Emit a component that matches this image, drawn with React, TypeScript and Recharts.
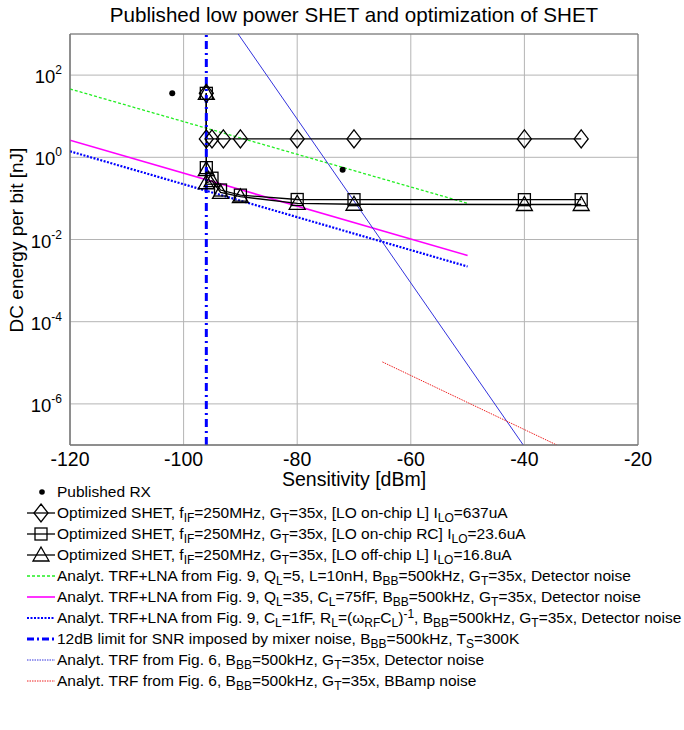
import React from 'react';
import { ComposedChart, Line, XAxis, YAxis, CartesianGrid, ReferenceArea } from 'recharts';

const FONT = '"Liberation Sans", Arial, sans-serif';

// sensitivity [dBm] / energy per bit [nJ]
const publishedX = [-102, -72];
const publishedY = [36, 0.5];

const diamondX = [-96, -96, -95, -93, -90, -80, -70, -40, -30];
const diamondY = [36, 2.8, 2.8, 2.8, 2.8, 2.8, 2.8, 2.8, 2.8];

const squareX = [-96, -96, -95, -93.5, -90, -80, -70, -40, -30];
const squareY = [36, 0.56, 0.31, 0.16, 0.12, 0.094, 0.093, 0.093, 0.093];

const triangleX = [-96, -96, -96, -95, -93.5, -90, -80, -70, -40, -30];
const triangleY = [36, 0.5, 0.24, 0.27, 0.14, 0.11, 0.076, 0.072, 0.071, 0.071];

const lnaQ5X = [-120, -50];
const lnaQ5Y = [46, 0.076];

const lnaQ35X = [-120, -50];
const lnaQ35Y = [2.6, 0.0041];

const lnaC1X = [-120, -50];
const lnaC1Y = [1.4, 0.0022];

const mixerLimitX = [-96, -96];
const mixerLimitY = [1e-7, 1e3];

const trfDetX = [-90.4, -40.2];
const trfDetY = [1e3, 1e-7];

const trfBBX = [-65, -34.3];
const trfBBY = [1.05e-5, 1e-7];

const xTicks = [-120, -100, -80, -60, -40, -20];
const yTicks = [1e-6, 1e-4, 1e-2, 1, 1e2];

const pts = (xs: number[], ys: number[]) => xs.map((x, i) => ({ x, y: ys[i] }));

const Diamond = ({ cx, cy }: any) => (
  <path d={`M${cx},${cy - 9}L${cx + 7},${cy}L${cx},${cy + 9}L${cx - 7},${cy}Z`} fill="none" stroke="#000" strokeWidth={1.3} />
);
const Square = ({ cx, cy }: any) => (
  <rect x={cx - 6} y={cy - 6} width={12} height={12} fill="none" stroke="#000" strokeWidth={1.3} />
);
const Triangle = ({ cx, cy }: any) => (
  <path d={`M${cx},${cy - 8}L${cx + 8},${cy + 6}L${cx - 8},${cy + 6}Z`} fill="none" stroke="#000" strokeWidth={1.3} />
);

const YTick = ({ x, y, payload }: any) => {
  const e = Math.round(Math.log10(payload.value));
  return (
    <text x={x} y={y + 8} textAnchor="end" fontSize={18.5} fontFamily={FONT} fill="#000">
      10<tspan dy={-9} fontSize={12}>{e}</tspan>
    </text>
  );
};

// label text: _{..} subscript, ^{..} superscript
const rich = (s: string) => {
  const out: React.ReactNode[] = [];
  const re = /([_^])\{([^}]*)\}/g;
  let last = 0;
  let m: RegExpExecArray | null;
  let k = 0;
  while ((m = re.exec(s))) {
    out.push(s.slice(last, m.index));
    const style: React.CSSProperties =
      m[1] === '_'
        ? { fontSize: 12, verticalAlign: '-4px', lineHeight: 0 }
        : { fontSize: 12, verticalAlign: '5px', lineHeight: 0 };
    out.push(<span key={k++} style={style}>{m[2]}</span>);
    last = m.index + m[0].length;
  }
  out.push(s.slice(last));
  return out;
};

const legendItems = [
  { icon: 'dot', text: 'Published RX' },
  { icon: 'diamond', text: 'Optimized SHET, f_{IF}=250MHz, G_{T}=35x, [LO on-chip L] I_{LO}=637uA' },
  { icon: 'square', text: 'Optimized SHET, f_{IF}=250MHz, G_{T}=35x, [LO on-chip RC] I_{LO}=23.6uA' },
  { icon: 'triangle', text: 'Optimized SHET, f_{IF}=250MHz, G_{T}=35x, [LO off-chip L] I_{LO}=16.8uA' },
  { icon: 'green', text: 'Analyt. TRF+LNA from Fig. 9, Q_{L}=5, L=10nH, B_{BB}=500kHz, G_{T}=35x, Detector noise' },
  { icon: 'magenta', text: 'Analyt. TRF+LNA from Fig. 9, Q_{L}=35, C_{L}=75fF, B_{BB}=500kHz, G_{T}=35x, Detector noise' },
  { icon: 'bluedot', text: 'Analyt. TRF+LNA from Fig. 9, C_{L}=1fF, R_{L}=(\u03c9_{RF}C_{L})^{-1}, B_{BB}=500kHz, G_{T}=35x, Detector noise' },
  { icon: 'dashdot', text: '12dB limit for SNR imposed by mixer noise, B_{BB}=500kHz, T_{S}=300K' },
  { icon: 'thinblue', text: 'Analyt. TRF from Fig. 6, B_{BB}=500kHz, G_{T}=35x, Detector noise' },
  { icon: 'red', text: 'Analyt. TRF from Fig. 6, B_{BB}=500kHz, G_{T}=35x, BBamp noise' },
];

const LegendIcon = ({ kind }: { kind: string }) => {
  const line = (stroke: string, w: number, dash?: string) => (
    <line x1={0} y1={11} x2={28} y2={11} stroke={stroke} strokeWidth={w} strokeDasharray={dash} />
  );
  let body: React.ReactNode = null;
  if (kind === 'dot') body = <circle cx={15} cy={11} r={2.8} fill="#000" />;
  if (kind === 'diamond') body = <>{line('#000', 1.3)}<Diamond cx={14} cy={11} /></>;
  if (kind === 'square') body = <>{line('#000', 1.3)}<Square cx={14} cy={11} /></>;
  if (kind === 'triangle') body = <>{line('#000', 1.3)}<Triangle cx={14} cy={11} /></>;
  if (kind === 'green') body = line('#22ee22', 1.3, '3 2');
  if (kind === 'magenta') body = line('#ff00ff', 1.6);
  if (kind === 'bluedot') body = line('#0000ff', 2.2, '2 1.5');
  if (kind === 'dashdot') body = line('#0000ff', 3, '7 3 2 3');
  if (kind === 'thinblue') body = line('#3333dd', 1, '1.5 1');
  if (kind === 'red') body = line('#ee2222', 1, '1.5 1');
  return (
    <svg width={30} height={22} style={{ flex: 'none', overflow: 'visible' }}>
      {body}
    </svg>
  );
};

const axisText = { fontSize: 19.5, fill: '#000', fontFamily: FONT };

export default function App() {
  return (
    <div style={{ width: 684, height: 730, background: '#fff', fontFamily: FONT, position: 'relative', overflow: 'hidden' }}>
      <style>{'body{margin:0}'}</style>
      <div style={{ position: 'absolute', left: 354, top: 3, transform: 'translateX(-50%)', whiteSpace: 'nowrap', fontSize: 20.6, lineHeight: '24px' }}>
        Published low power SHET and optimization of SHET
      </div>
      <ComposedChart width={684} height={481} margin={{ top: 34, right: 46, left: 0, bottom: 0 }}>
        <CartesianGrid stroke="#b4b4b4" strokeWidth={1} />
        <XAxis
          type="number"
          dataKey="x"
          domain={[-120, -20]}
          ticks={xTicks}
          allowDataOverflow
          height={36}
          tickLine={false}
          axisLine={{ stroke: '#777' }}
          tick={axisText}
          tickMargin={1}
        />
        <YAxis
          type="number"
          scale="log"
          domain={[1e-7, 1e3]}
          ticks={yTicks}
          allowDataOverflow
          width={70}
          tickLine={false}
          axisLine={{ stroke: '#777' }}
          tick={<YTick />}
        />
        <ReferenceArea x1={-120} x2={-20} y1={1e-7} y2={1e3} fill="none" stroke="#777" strokeWidth={1} />

        <Line data={pts(lnaQ5X, lnaQ5Y)} dataKey="y" stroke="#22ee22" strokeWidth={1.3} strokeDasharray="3 2" dot={false} isAnimationActive={false} />
        <Line data={pts(lnaQ35X, lnaQ35Y)} dataKey="y" stroke="#ff00ff" strokeWidth={1.6} dot={false} isAnimationActive={false} />
        <Line data={pts(lnaC1X, lnaC1Y)} dataKey="y" stroke="#0000ff" strokeWidth={2.2} strokeDasharray="2 1.5" dot={false} isAnimationActive={false} />
        <Line data={pts(trfDetX, trfDetY)} dataKey="y" stroke="#3333dd" strokeWidth={1} dot={false} isAnimationActive={false} />
        <Line data={pts(trfBBX, trfBBY)} dataKey="y" stroke="#ee2222" strokeWidth={1} strokeDasharray="1.5 1" dot={false} isAnimationActive={false} />

        <Line data={pts(diamondX, diamondY)} dataKey="y" stroke="#000" strokeWidth={1.3} isAnimationActive={false}
          dot={(p: any) => <Diamond key={p.index} cx={p.cx} cy={p.cy} />} />
        <Line data={pts(squareX, squareY)} dataKey="y" stroke="#000" strokeWidth={1.3} isAnimationActive={false}
          dot={(p: any) => <Square key={p.index} cx={p.cx} cy={p.cy} />} />
        <Line data={pts(triangleX, triangleY)} dataKey="y" stroke="#000" strokeWidth={1.3} isAnimationActive={false}
          dot={(p: any) => <Triangle key={p.index} cx={p.cx} cy={p.cy} />} />

        <Line data={pts(mixerLimitX, mixerLimitY)} dataKey="y" stroke="#0000ff" strokeWidth={3} strokeDasharray="8 4 2 4" dot={false} isAnimationActive={false} />

        <Line data={pts(publishedX, publishedY)} dataKey="y" stroke="none" isAnimationActive={false}
          dot={(p: any) => <circle key={p.index} cx={p.cx} cy={p.cy} r={3} fill="#000" />} />
      </ComposedChart>
      <div style={{ position: 'absolute', left: 17, top: 240, transform: 'translate(-50%, -50%) rotate(-90deg)', whiteSpace: 'nowrap', fontSize: 19, lineHeight: '22px' }}>
        DC energy per bit [nJ]
      </div>
      <div style={{ position: 'absolute', left: 354, top: 468, transform: 'translateX(-50%)', whiteSpace: 'nowrap', fontSize: 19.5, lineHeight: '22px' }}>
        Sensitivity [dBm]
      </div>
      <div style={{ position: 'absolute', left: 27, top: 481, fontSize: 15.5, color: '#000', whiteSpace: 'nowrap' }}>
        {legendItems.map((it) => (
          <div key={it.text} style={{ display: 'flex', alignItems: 'center', height: 21 }}>
            <LegendIcon kind={it.icon} />
            <span style={{ lineHeight: '21px' }}>{rich(it.text)}</span>
          </div>
        ))}
      </div>
    </div>
  );
}
